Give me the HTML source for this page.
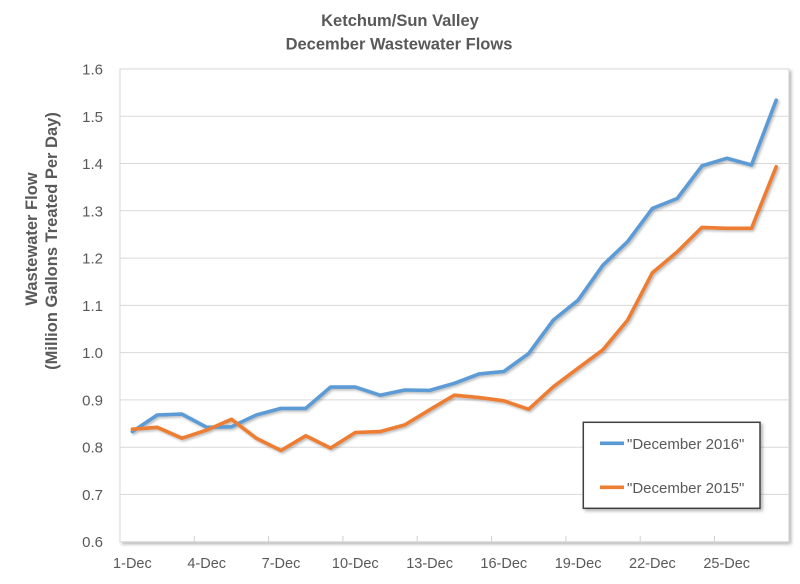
<!DOCTYPE html>
<html><head><meta charset="utf-8"><style>
html,body{margin:0;padding:0;background:#fff;}
svg{display:block;}
text{font-family:"Liberation Sans",Arial,sans-serif;fill:#595959;}
</style></head><body>
<svg width="800" height="584" viewBox="0 0 800 584" xmlns="http://www.w3.org/2000/svg">
<defs>
<filter id="sh" x="-10%" y="-10%" width="120%" height="120%">
<feDropShadow dx="1.5" dy="1.5" stdDeviation="1.2" flood-color="#000" flood-opacity="0.28"/>
</filter>
<filter id="sh2" x="-10%" y="-10%" width="130%" height="130%">
<feDropShadow dx="2" dy="2" stdDeviation="1.5" flood-color="#000" flood-opacity="0.3"/>
</filter>
</defs>
<rect width="800" height="584" fill="#fff"/>
<!-- plot area frame -->
<rect x="120" y="69" width="668.8" height="472.7" fill="#fff" stroke="#d9d9d9" stroke-width="1" filter="url(#sh2)"/>
<!-- gridlines -->
<g stroke="#d9d9d9" stroke-width="1">
<line x1="120" y1="69" x2="788.8" y2="69"/>
<line x1="120" y1="116.3" x2="788.8" y2="116.3"/>
<line x1="120" y1="163.5" x2="788.8" y2="163.5"/>
<line x1="120" y1="210.8" x2="788.8" y2="210.8"/>
<line x1="120" y1="258.1" x2="788.8" y2="258.1"/>
<line x1="120" y1="305.4" x2="788.8" y2="305.4"/>
<line x1="120" y1="352.6" x2="788.8" y2="352.6"/>
<line x1="120" y1="399.9" x2="788.8" y2="399.9"/>
<line x1="120" y1="447.2" x2="788.8" y2="447.2"/>
<line x1="120" y1="494.4" x2="788.8" y2="494.4"/>
</g>
<!-- x axis -->
<line x1="120" y1="541.7" x2="788.8" y2="541.7" stroke="#bfbfbf" stroke-width="1.5" filter="url(#sh)"/>
<g stroke="#d0d0d0" stroke-width="1">
<line x1="194.3" y1="536" x2="194.3" y2="541.7"/>
<line x1="268.6" y1="536" x2="268.6" y2="541.7"/>
<line x1="342.9" y1="536" x2="342.9" y2="541.7"/>
<line x1="417.2" y1="536" x2="417.2" y2="541.7"/>
<line x1="491.6" y1="536" x2="491.6" y2="541.7"/>
<line x1="565.9" y1="536" x2="565.9" y2="541.7"/>
<line x1="640.2" y1="536" x2="640.2" y2="541.7"/>
<line x1="714.5" y1="536" x2="714.5" y2="541.7"/>
</g>
<!-- y labels -->
<g font-size="15" text-anchor="end">
<text x="103" y="74.5">1.6</text>
<text x="103" y="121.8">1.5</text>
<text x="103" y="169">1.4</text>
<text x="103" y="216.3">1.3</text>
<text x="103" y="263.6">1.2</text>
<text x="103" y="310.9">1.1</text>
<text x="103" y="358.1">1.0</text>
<text x="103" y="405.4">0.9</text>
<text x="103" y="452.7">0.8</text>
<text x="103" y="499.9">0.7</text>
<text x="103" y="547.2">0.6</text>
</g>
<!-- x labels -->
<g font-size="14.5" text-anchor="middle">
<text x="132.4" y="568">1-Dec</text>
<text x="206.7" y="568">4-Dec</text>
<text x="281" y="568">7-Dec</text>
<text x="355.3" y="568">10-Dec</text>
<text x="429.6" y="568">13-Dec</text>
<text x="503.8" y="568">16-Dec</text>
<text x="578.1" y="568">19-Dec</text>
<text x="652.4" y="568">22-Dec</text>
<text x="726.7" y="568">25-Dec</text>
</g>
<!-- series -->
<g fill="none" stroke-width="3.6" stroke-linejoin="round" stroke-linecap="round" filter="url(#sh)">
<polyline stroke="#5b9bd5" points="132.4,431.6 157.2,415 181.9,414.1 206.7,427.3 231.5,426.8 256.2,415 281,408.4 305.7,408.4 330.5,387.1 355.3,387.1 380,395.2 404.8,390 429.6,390.4 454.3,383.3 479.1,373.9 503.8,371.5 528.6,353.6 553.4,320 578.1,300.2 602.9,265.2 627.7,241.5 652.4,208.4 677.2,198.5 701.9,165.9 726.7,158.3 751.5,165 776.2,100.2"/>
<polyline stroke="#ed7d31" points="132.4,429.2 157.2,427.3 181.9,438.2 206.7,430.1 231.5,419.3 256.2,438.2 281,450.5 305.7,435.8 330.5,448.1 355.3,432.5 380,431.6 404.8,424.9 429.6,409.8 454.3,395.2 479.1,397.5 503.8,400.8 528.6,409.3 553.4,386.7 578.1,368.2 602.9,349.8 627.7,320 652.4,272.7 677.2,251.9 701.9,227.4 726.7,228.3 751.5,228.3 776.2,166.8"/>
</g>
<!-- legend -->
<rect x="583.3" y="422.3" width="176.7" height="86" fill="#fff" stroke="#404040" stroke-width="1.5" filter="url(#sh2)"/>
<line x1="600" y1="443.3" x2="624" y2="443.3" stroke="#5b9bd5" stroke-width="3.6"/>
<line x1="600" y1="487.3" x2="624" y2="487.3" stroke="#ed7d31" stroke-width="3.6"/>
<g font-size="15">
<text x="627" y="448.8">"December 2016"</text>
<text x="627" y="492.8">"December 2015"</text>
</g>
<!-- title -->
<g font-size="16.5" font-weight="bold" text-anchor="middle">
<text x="400" y="26">Ketchum/Sun Valley</text>
<text x="399" y="49.5">December Wastewater Flows</text>
</g>
<!-- y axis title -->
<g font-size="16.5" font-weight="bold" text-anchor="middle">
<text transform="translate(37,239) rotate(-90)">Wastewater Flow</text>
<text transform="translate(57,241) rotate(-90)">(Million Gallons Treated Per Day)</text>
</g>
</svg>
</body></html>
